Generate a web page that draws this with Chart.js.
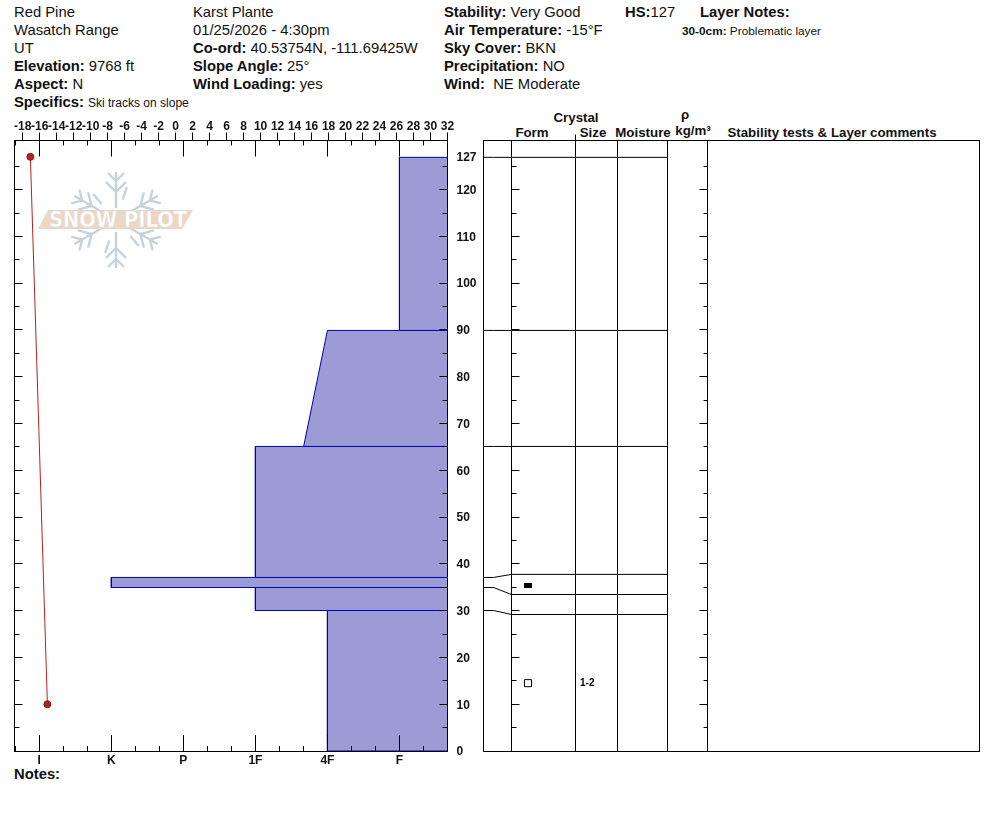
<!DOCTYPE html>
<html>
<head>
<meta charset="utf-8">
<script src="https://cdn.jsdelivr.net/npm/chart.js@4"></script>
<style>
  html, body { margin: 0; padding: 0; background: #fff; }
  #page { position: relative; width: 994px; height: 840px; overflow: hidden; font-family: "Liberation Sans", Arial, sans-serif; color: #111; }
  #page canvas { position: absolute; top: 100px; }
  #logo { position: absolute; left: 30px; top: 165px; }
  .t { position: absolute; font-size: 14.8px; line-height: 18px; white-space: nowrap; transform: translateY(-9px); }
  .t b { font-weight: bold; }
  .s { font-size: 12px; }
  .n { font-size: 11.8px; }
  .h { position: absolute; font-size: 13.3px; line-height: 14px; font-weight: bold; white-space: nowrap; transform: translate(-50%, -7px); }
</style>
</head>
<body>
<div id="page">
  <svg id="logo" width="170" height="110" viewBox="30 165 170 110">
    <defs>
      <g id="arm" fill="none" stroke="#c6d3da" stroke-width="2.4">
        <path d="M116 208V172M106 182L116 192L126 182M108 173L116 181L124 173"/>
        <path d="M111.500 199L109 186" transform="rotate(30 116 220)"/>
      </g>
    </defs>
    <use href="#arm"/>
    <use href="#arm" transform="rotate(60 116 220)"/>
    <use href="#arm" transform="rotate(120 116 220)"/>
    <use href="#arm" transform="rotate(180 116 220)"/>
    <use href="#arm" transform="rotate(240 116 220)"/>
    <use href="#arm" transform="rotate(300 116 220)"/>
    <polygon points="48,210 193,210 182,229 38,229" fill="#ecd6c4"/>
    <text x="49" y="227" font-family="DejaVu Sans" font-weight="bold" font-size="22" fill="#fff" stroke="#dcdcdc" stroke-width="0.5" textLength="138" lengthAdjust="spacingAndGlyphs">SNOW PILOT</text>
  </svg>

  <div class="t" style="left:14px;top:12px">Red Pine</div>
  <div class="t" style="left:14px;top:30px">Wasatch Range</div>
  <div class="t" style="left:14px;top:48px">UT</div>
  <div class="t" style="left:14px;top:66px"><b>Elevation:</b> 9768 ft</div>
  <div class="t" style="left:14px;top:84px"><b>Aspect:</b> N</div>
  <div class="t" style="left:14px;top:102px"><b>Specifics:</b> <span class="s">Ski tracks on slope</span></div>

  <div class="t" style="left:193px;top:12px">Karst Plante</div>
  <div class="t" style="left:193px;top:30px">01/25/2026 - 4:30pm</div>
  <div class="t" style="left:193px;top:48px"><b>Co-ord:</b> 40.53754N, -111.69425W</div>
  <div class="t" style="left:193px;top:66px"><b>Slope Angle:</b> 25°</div>
  <div class="t" style="left:193px;top:84px"><b>Wind Loading:</b> yes</div>

  <div class="t" style="left:444px;top:12px"><b>Stability:</b> Very Good</div>
  <div class="t" style="left:444px;top:30px"><b>Air Temperature:</b> -15°F</div>
  <div class="t" style="left:444px;top:48px"><b>Sky Cover:</b> BKN</div>
  <div class="t" style="left:444px;top:66px"><b>Precipitation:</b> NO</div>
  <div class="t" style="left:444px;top:84px"><b>Wind:</b>&nbsp; NE Moderate</div>

  <div class="t" style="left:625px;top:12px"><b>HS:</b>127</div>
  <div class="t" style="left:700px;top:12px"><b>Layer Notes:</b></div>
  <div class="t n" style="left:682px;top:31px"><b>30-0cm:</b> Problematic layer</div>

  <div class="h" style="left:576px;top:118px">Crystal</div>
  <div class="h" style="left:532px;top:133px">Form</div>
  <div class="h" style="left:593px;top:133px">Size</div>
  <div class="h" style="left:643px;top:133px">Moisture</div>
  <div class="h" style="left:685px;top:115px">ρ</div>
  <div class="h" style="left:693px;top:131px">kg/m³</div>
  <div class="h" style="left:832px;top:133px">Stability tests &amp; Layer comments</div>
  <div class="t" style="left:14px;top:774px"><b>Notes:</b></div>

  <canvas id="profileChart" width="480" height="680" style="left:0"></canvas>
  <canvas id="layerChart" width="514" height="680" style="left:480px"></canvas>
</div>

<script>
// Temperature profile
const tempValues = [-17.1, -15.1];
const tempDepths = [127, 10];
const tempTicks = [-18, -16, -14, -12, -10, -8, -6, -4, -2, 0, 2, 4, 6, 8, 10, 12, 14, 16, 18, 20, 22, 24, 26, 28, 30, 32];

// Hand hardness, index into hardnessLabels
const hardnessLabels = ['I', 'K', 'P', '1F', '4F', 'F'];
const layerTops = [126.9, 89.9, 65.1, 37.1, 34.95, 30.03];
const layerBottoms = [89.9, 65.1, 37.1, 34.95, 30.03, 0];
const hardnessTop = [5, 4, 3, 1, 3, 4];
const hardnessBottom = [5, 3.67, 3, 1, 3, 4];

// Where the layer boundaries land in the crystal table
const tableDepths = [126.9, 89.9, 65.1, 37.75, 33.45, 29.18];

// Crystal rows
const crystalDepths = [35.4, 14.5];
const crystalSizes = ['', '1-2'];

const depthTicks = [0, 10, 20, 30, 40, 50, 60, 70, 80, 90, 100, 110, 120, 127];
const minorDepths = [5, 15, 25, 35, 45, 55, 65, 75, 85, 95, 105, 115, 125];
const majorDepths = [10, 20, 30, 40, 50, 60, 70, 80, 90, 100, 110, 120];

const depthMax = 130.5;
const hardnessMin = -0.344, hardnessMax = 5.667;
const tempMin = -18.97, tempMax = 32;

// table x axis runs in pixels from the left edge of the table
const tableWidth = 496;
const columnEdges = [0, 28, 92, 134, 184, 224, 496];
const formX = 44.5, sizeX = 96.5;
const boundaryX = [0, 10, 28, 184];

const labelFont = { family: '"Liberation Sans", Arial, sans-serif', size: 12, weight: 'bold' };
const ink = '#000';

function crisp(v) {
  return Math.floor(v) + 0.5;
}

function line(ctx, x1, y1, x2, y2) {
  ctx.beginPath();
  ctx.moveTo(x1, y1);
  ctx.lineTo(x2, y2);
  ctx.stroke();
}

// ticks inside the plot and the black frame, on top of the layers
const profileFrame = {
  id: 'profileFrame',
  afterDatasetsDraw(chart) {
    const { ctx, chartArea: a, scales } = chart;
    ctx.save();
    ctx.strokeStyle = ink;
    ctx.lineWidth = 1;
    for (let i = -1; i <= 16; i++) {
      const x = crisp(scales.hard.getPixelForValue(i / 3));
      const len = i % 3 === 0 ? 16 : 5;
      line(ctx, x, a.top, x, a.top + len);
      line(ctx, x, a.bottom, x, a.bottom - len);
    }
    majorDepths.forEach(d => {
      const y = crisp(scales.y.getPixelForValue(d));
      line(ctx, a.left, y, a.left + 8, y);
      line(ctx, a.right, y, a.right - 8, y);
    });
    minorDepths.forEach(d => {
      const y = crisp(scales.y.getPixelForValue(d));
      line(ctx, a.left, y, a.left + 5, y);
      line(ctx, a.right, y, a.right - 5, y);
    });
    ctx.strokeRect(crisp(a.left), crisp(a.top), crisp(a.right) - crisp(a.left), crisp(a.bottom) - crisp(a.top));
    ctx.restore();
  }
};

const tableFrame = {
  id: 'tableFrame',
  afterDatasetsDraw(chart) {
    const { ctx, chartArea: a, scales } = chart;
    const left = crisp(scales.x.getPixelForValue(28));
    const right = crisp(scales.x.getPixelForValue(224));
    const sizeEdge = crisp(scales.x.getPixelForValue(92));
    ctx.save();
    ctx.strokeStyle = ink;
    ctx.lineWidth = 1;
    line(ctx, sizeEdge, a.top - 6, sizeEdge, a.top);
    majorDepths.forEach(d => {
      const y = crisp(scales.y.getPixelForValue(d));
      line(ctx, left, y, left + 8, y);
      line(ctx, right, y, right - 8, y);
    });
    minorDepths.forEach(d => {
      const y = crisp(scales.y.getPixelForValue(d));
      line(ctx, left, y, left + 5, y);
      line(ctx, right, y, right - 4, y);
    });
    ctx.strokeRect(crisp(a.left), crisp(a.top), crisp(a.right) - crisp(a.left), crisp(a.bottom) - crisp(a.top));
    ctx.fillStyle = ink;
    ctx.font = 'bold 10px "Liberation Sans", Arial, sans-serif';
    ctx.textBaseline = 'middle';
    crystalSizes.forEach((s, i) => {
      ctx.fillText(s, scales.x.getPixelForValue(sizeX), scales.y.getPixelForValue(crystalDepths[i]));
    });
    ctx.restore();
  }
};

const layerDatasets = layerTops.map((top, i) => ({
  label: 'Layer ' + top,
  data: [
    { x: hardnessMax, y: top },
    { x: hardnessTop[i], y: top },
    { x: hardnessBottom[i], y: layerBottoms[i] },
    { x: hardnessMax, y: layerBottoms[i] },
    { x: hardnessMax, y: top }
  ],
  xAxisID: 'hard',
  yAxisID: 'y',
  showLine: true,
  fill: 'shape',
  tension: 0,
  pointRadius: 0,
  borderWidth: 1,
  borderColor: '#0000b4',
  backgroundColor: '#9c9bd6'
}));

const profileChart = new Chart(document.getElementById('profileChart'), {
  type: 'scatter',
  data: {
    datasets: [
      ...layerDatasets,
      {
        label: 'Snow temperature',
        data: tempValues.map((t, i) => ({ x: t, y: tempDepths[i] })),
        xAxisID: 'temp',
        yAxisID: 'y',
        showLine: true,
        borderColor: '#b22222',
        backgroundColor: '#b22222',
        borderWidth: 1,
        pointRadius: 3.5,
        pointBorderColor: '#8a1a1a'
      }
    ]
  },
  options: {
    responsive: false,
    animation: false,
    devicePixelRatio: 1,
    layout: { autoPadding: false, padding: { left: 14.5 } },
    plugins: { legend: { display: false }, tooltip: { enabled: false } },
    scales: {
      temp: {
        type: 'linear',
        position: 'top',
        min: tempMin,
        max: tempMax,
        afterBuildTicks(scale) { scale.ticks = tempTicks.map(v => ({ value: v })); },
        afterFit(scale) { scale.height = 40.5; },
        grid: { drawOnChartArea: false, tickLength: 8, color: ink },
        border: { color: ink },
        ticks: { autoSkip: false, maxRotation: 0, padding: -1, color: '#111', font: labelFont }
      },
      hard: {
        type: 'linear',
        position: 'bottom',
        min: hardnessMin,
        max: hardnessMax,
        afterBuildTicks(scale) { scale.ticks = hardnessLabels.map((h, i) => ({ value: i })); },
        afterFit(scale) { scale.height = 29; },
        grid: { display: false, drawTicks: false },
        border: { color: ink },
        ticks: {
          autoSkip: false,
          maxRotation: 0,
          padding: 2,
          color: '#111',
          font: labelFont,
          callback: v => hardnessLabels[v]
        }
      },
      y: {
        type: 'linear',
        position: 'right',
        min: 0,
        max: depthMax,
        afterBuildTicks(scale) { scale.ticks = depthTicks.map(v => ({ value: v })); },
        afterFit(scale) { scale.width = 32.5; },
        grid: { display: false, drawTicks: false },
        border: { display: false },
        ticks: { autoSkip: false, padding: 9, labelOffset: 1, color: '#111', font: labelFont }
      }
    }
  },
  plugins: [profileFrame]
});

// filled mark for the faceted crystal form
const facetMark = document.createElement('canvas');
facetMark.width = 8;
facetMark.height = 5;
facetMark.getContext('2d').fillRect(0, 0, 8, 5);

const boundaryDatasets = layerTops.map((top, i) => ({
  label: 'Boundary ' + top,
  data: [
    { x: boundaryX[0], y: top },
    { x: boundaryX[1], y: top },
    { x: boundaryX[2], y: tableDepths[i] },
    { x: boundaryX[3], y: tableDepths[i] }
  ],
  showLine: true,
  tension: 0,
  pointRadius: 0,
  borderWidth: 1,
  borderColor: ink
}));

const layerChart = new Chart(document.getElementById('layerChart'), {
  type: 'scatter',
  data: {
    datasets: [
      ...boundaryDatasets,
      {
        label: 'Crystal form',
        data: crystalDepths.map(d => ({ x: formX, y: d })),
        pointStyle: [facetMark, 'rect'],
        pointRadius: 5,
        borderWidth: 1,
        borderColor: ink,
        backgroundColor: '#fff'
      }
    ]
  },
  options: {
    responsive: false,
    animation: false,
    devicePixelRatio: 1,
    layout: { autoPadding: false, padding: { left: 3.5, right: 14.5, top: 40.5 } },
    plugins: { legend: { display: false }, tooltip: { enabled: false } },
    scales: {
      x: {
        type: 'linear',
        min: 0,
        max: tableWidth,
        afterBuildTicks(scale) { scale.ticks = columnEdges.map(v => ({ value: v })); },
        afterFit(scale) { scale.height = 29; },
        grid: { color: ink, drawTicks: false },
        border: { color: ink },
        ticks: { display: false, autoSkip: false }
      },
      y: {
        type: 'linear',
        display: false,
        min: 0,
        max: depthMax
      }
    }
  },
  plugins: [tableFrame]
});
</script>
</body>
</html>
